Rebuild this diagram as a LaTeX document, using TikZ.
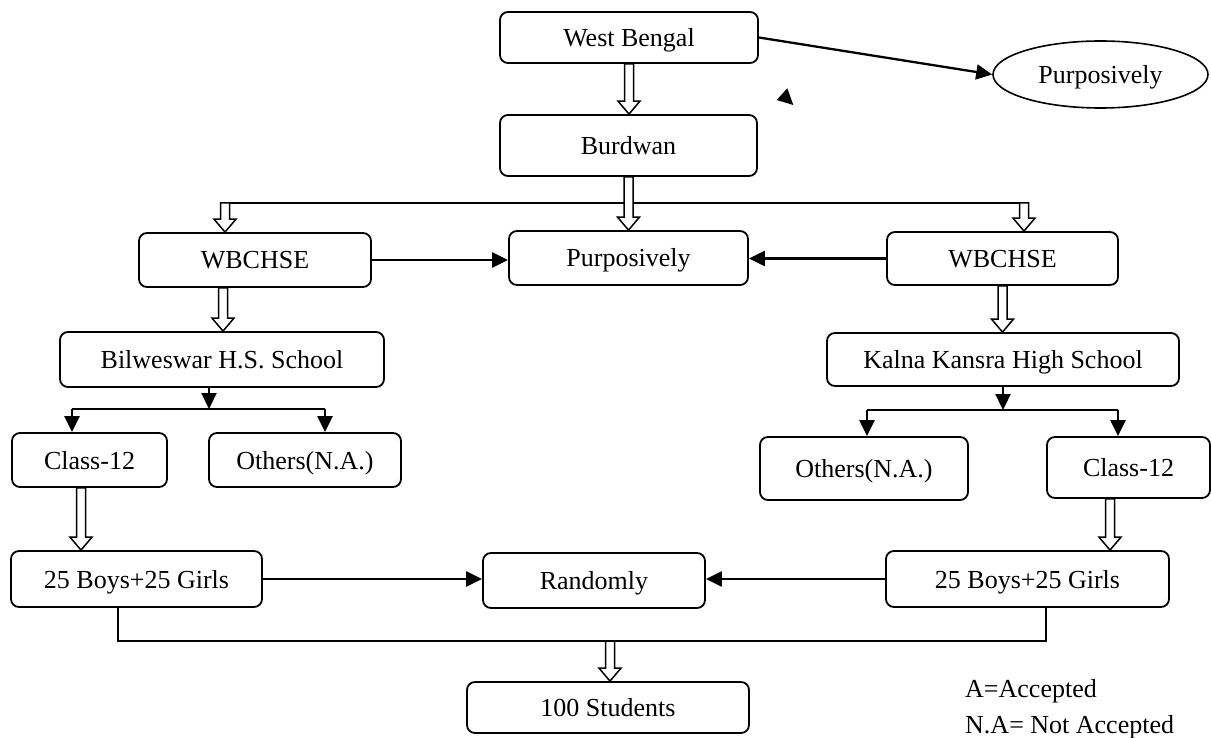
\documentclass[tikz,border=0pt]{standalone}
\usepackage{fontspec}
\setmainfont{Liberation Serif}
\usetikzlibrary{arrows.meta,calc,shapes.geometric}
\tikzset{
  txt/.style={font=\fontsize{26}{30}\selectfont, text height=20pt, text depth=2pt},
  box/.style={draw, line width=1.8pt, rounded corners=8pt, inner sep=0pt, txt},
  con/.style={line width=1.7pt},
  arr/.style={line width=2.3pt, -{Triangle[length=16pt,width=15pt]}},
  hol/.style={draw, line width=1.5pt, fill=white, line join=miter},
}
\newcommand\hollowarrow[2]{%
  \draw[hol] let \p1=#1, \p2=#2 in
    (\x1-4.5pt,\y1) -- (\x1-4.5pt,\y2+13pt) -- (\x1-11pt,\y2+13pt) -- (\x1,\y2)
    -- (\x1+11pt,\y2+13pt) -- (\x1+4.5pt,\y2+13pt) -- (\x1+4.5pt,\y1) -- cycle;}
\begin{document}
\begin{tikzpicture}[x=1pt,y=-1pt]
\useasboundingbox (0,0) rectangle (1211,738);
% nodes
\node[box, minimum width=258, minimum height=51] (wb) at (629,37.5) {West Bengal};
\node[draw, ellipse, line width=1.6pt, minimum width=215, minimum height=67, inner sep=0pt, txt] (pe) at (1100.5,74.5) {Purposively};
\node[box, minimum width=257, minimum height=61] (bu) at (628.5,145.5) {Burdwan};
\node[box, minimum width=232, minimum height=54] (wl) at (255,260) {WBCHSE};
\node[box, minimum width=239, minimum height=54] (pm) at (628.5,258) {Purposively};
\node[box, minimum width=231, minimum height=53] (wr) at (1002.5,258.5) {WBCHSE};
\node[box, minimum width=324, minimum height=55] (bil) at (222,359.5) {Bilweswar H.S. School};
\node[box, minimum width=352, minimum height=53] (kal) at (1003,359.5) {Kalna Kansra High School};
\node[box, minimum width=155, minimum height=54] (c12l) at (89.5,460) {Class-12};
\node[box, minimum width=192, minimum height=54] (othl) at (305,460) {Others(N.A.)};
\node[box, minimum width=208, minimum height=63] (othr) at (864,468.5) {Others(N.A.)};
\node[box, minimum width=163, minimum height=61] (c12r) at (1128.5,467.5) {Class-12};
\node[box, minimum width=251, minimum height=56] (b25l) at (136.5,579) {25 Boys+25 Girls};
\node[box, minimum width=222, minimum height=55] (ran) at (594,580.5) {Randomly};
\node[box, minimum width=283, minimum height=56] (b25r) at (1027.5,579) {25 Boys+25 Girls};
\node[box, minimum width=282, minimum height=51] (s100) at (608,707.5) {100 Students};
\node[anchor=base west, inner sep=0pt, font=\fontsize{26}{30}\selectfont] (la) at (965,697) {A=Accepted};
\node[anchor=base west, inner sep=0pt, font=\fontsize{26}{30}\selectfont] (lna) at (965,733) {N.A= Not Accepted};
% top connectors
\draw[arr] (wb.east) -- (pe.west);
\fill (776.7,100) -- (787.3,88.3) -- (793.3,105) -- cycle;
\hollowarrow{(wb.south)}{(bu.north)}
\coordinate (jl) at (225,203);
\coordinate (jr) at (1024,203);
\draw[con] (jl) -- (jr);
\hollowarrow{(jl)}{(jl |- wl.north)}
\hollowarrow{(jr)}{(jr |- wr.north)}
\hollowarrow{(bu.south)}{(pm.north)}
\draw[arr] (wl.east) -- (pm.west |- wl.east);
\draw[arr] (wr.west) -- (pm.east |- wr.west);
% second level
\coordinate (xl) at (223,0);
\hollowarrow{(wl.south -| xl)}{(bil.north -| xl)}
\hollowarrow{(wr.south)}{(kal.north -| wr.south)}
% left branch
\coordinate (bs) at (209,409);
\coordinate (bl) at (72,409);
\coordinate (br) at (325,409);
\draw[con] (bl) -- (br);
\draw[arr] (bil.south -| bs) -- (bs);
\draw[arr] (bl) -- (bl |- c12l.north);
\draw[arr] (br) -- (br |- othl.north);
% right branch
\coordinate (ks) at (1003,410);
\coordinate (kl) at (867,410);
\coordinate (kr) at (1118,410);
\draw[con] (kl) -- (kr);
\draw[arr] (kal.south -| ks) -- (ks);
\draw[arr] (kl) -- (kl |- othr.north);
\draw[arr] (kr) -- (kr |- c12r.north);
% class-12 to boys/girls
\coordinate (cl) at (81,0);
\coordinate (cr) at (1110,0);
\hollowarrow{(c12l.south -| cl)}{(b25l.north -| cl)}
\hollowarrow{(c12r.south -| cr)}{(b25r.north -| cr)}
\draw[arr] (b25l.east) -- (ran.west |- b25l.east);
\draw[arr] (b25r.west) -- (ran.east |- b25r.west);
% bottom
\coordinate (ml) at (118,641);
\coordinate (mr) at (1046,641);
\coordinate (mm) at (610,641);
\draw[con] (b25l.south -| ml) -- (ml) -- (mr) -- (b25r.south -| mr);
\hollowarrow{(mm)}{(s100.north -| mm)}
\end{tikzpicture}
\end{document}
